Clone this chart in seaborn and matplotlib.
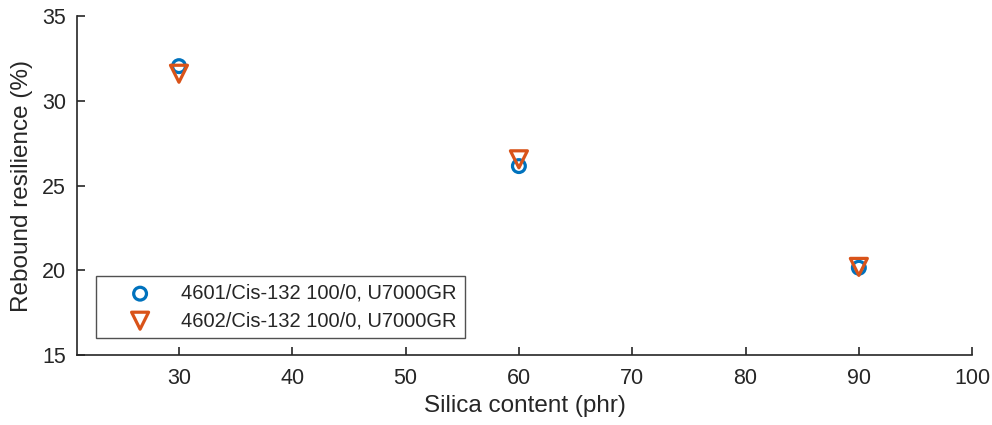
import numpy as np
import pandas as pd
import seaborn as sns
import matplotlib.pyplot as plt

# data
silica = [30, 60, 90]
rebound_4601 = [32.05, 26.15, 20.15]
rebound_4602 = [31.6, 26.55, 20.2]
labels = ["4601/Cis-132 100/0, U7000GR", "4602/Cis-132 100/0, U7000GR"]

sns.set_style("ticks")
plt.rcParams['font.family'] = ['Liberation Sans', 'DejaVu Sans']
plt.rcParams['xtick.direction'] = 'in'
plt.rcParams['ytick.direction'] = 'in'

fig = plt.figure(figsize=(9.92, 4.25), dpi=100)
ax = fig.add_axes([0.0776, 0.1647, 0.9024, 0.7973])

blue = "#0072BD"
orange = "#D95319"

sns.scatterplot(x=silica, y=rebound_4601, ax=ax, marker="o", s=85,
                facecolors="none", edgecolor=blue, linewidth=2.3, label=labels[0])
sns.scatterplot(x=silica, y=rebound_4602, ax=ax, marker="v", s=150,
                facecolors="none", edgecolor=orange, linewidth=2.3, label=labels[1])

ax.set_xlim(21, 100)
ax.set_ylim(15, 35)
ax.set_xticks(range(30, 101, 10))
ax.set_yticks(range(15, 36, 5))
ax.set_xlabel("Silica content (phr)", fontsize=17.5, color="#262626", labelpad=5)
ax.set_ylabel("Rebound resilience (%)", fontsize=17.5, color="#262626", labelpad=6)
ax.tick_params(labelsize=15.5, colors="#262626", length=6, width=1.2)
ax.tick_params(axis="x", pad=9)
ax.tick_params(axis="y", pad=8)
sns.despine(ax=ax)
for s in ["left", "bottom"]:
    ax.spines[s].set_color("#262626")
    ax.spines[s].set_linewidth(1.2)

leg = ax.legend(loc="lower left", bbox_to_anchor=(0.021, 0.05), borderaxespad=0,
                fontsize=14.5, frameon=True, fancybox=False, edgecolor="#262626",
                handlelength=3.6, handletextpad=0.25, borderpad=0.4, labelspacing=0.4)
leg.get_frame().set_linewidth(1.0)

fig.savefig("out.png", dpi=100)
